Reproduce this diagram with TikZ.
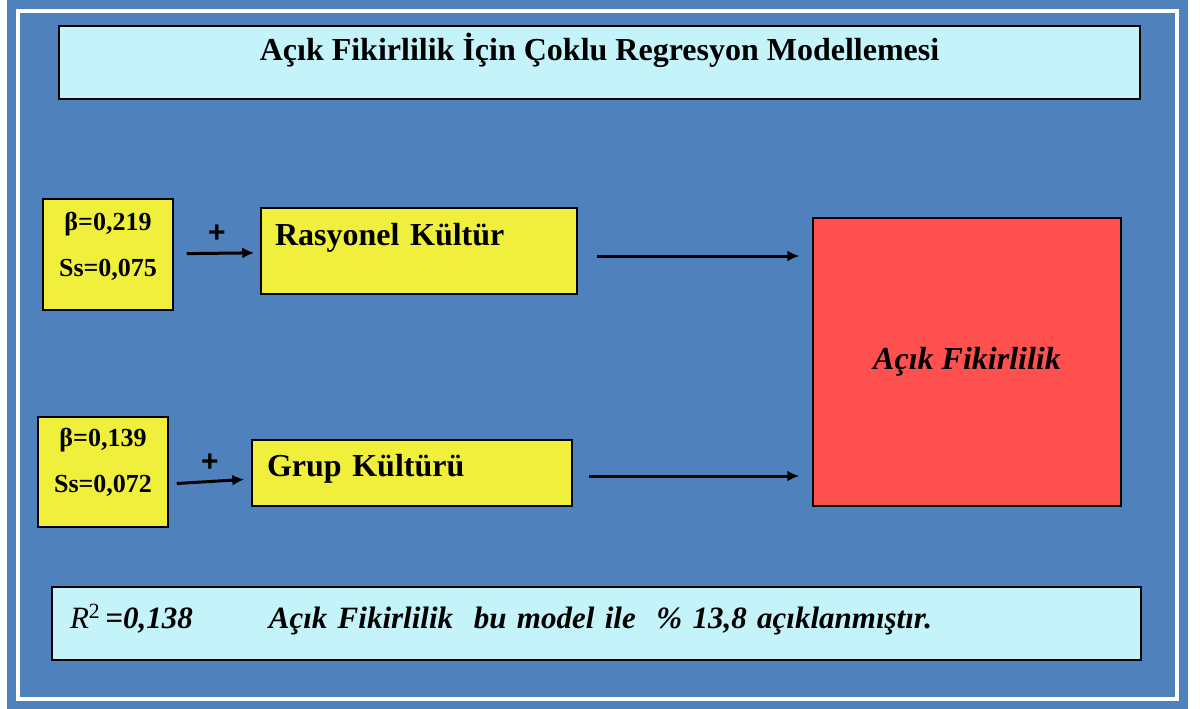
\documentclass[tikz,border=0pt]{standalone}
\usepackage{fontspec}
\setmainfont{Liberation Serif}
\setsansfont{Liberation Sans}
\usetikzlibrary{calc,arrows.meta}

\definecolor{slideblue}{HTML}{4F81BD}
\definecolor{palecyan}{HTML}{C5F3FA}
\definecolor{lemon}{HTML}{F0F03C}
\definecolor{coral}{HTML}{FF5050}

\begin{document}
\begin{tikzpicture}[x=1pt, y=-1pt,
		box node/.style={draw=black, line width=1.5pt, inner sep=0pt,
			font=\fontsize{32}{38}\selectfont\bfseries},
		beta node/.style={box node, fill=lemon, minimum width=130pt, align=center,
			font=\fontsize{26}{46}\selectfont\bfseries},
		link/.style={draw=black, line width=3pt, -{Latex[length=12pt,width=11pt]}},
		plus/.style={font=\sffamily\bfseries\fontsize{30}{30}\selectfont, inner sep=0pt, above=9pt}]
	
	\useasboundingbox (0,0) rectangle (1200,709);
	\fill[slideblue] (7,0) rectangle (1188,709);
	\draw[white, line width=4pt] (18,11.5) rectangle (1177,699);
	
	\node[box node, fill=palecyan, minimum width=1081pt, text height=34pt, text depth=39pt] (0) at (599.5,62.5)
		{Açık Fikirlilik İçin Çoklu Regresyon Modellemesi};
	
	\node[beta node, text height=77pt, text depth=34pt] (1) at (108,254.5)
		{β=0,219\\Ss=0,075};
	\node[box node, fill=lemon, text width=288pt, inner xsep=14pt, align=left,
		text height=37pt, text depth=49pt] (2) at (419,251) {Rasyonel Kültür};
	\node[box node, fill=lemon, text width=290pt, inner xsep=15pt, align=left,
		text height=36pt, text depth=30pt] (3) at (412,473) {Grup Kültürü};
	\node[box node, fill=coral, minimum width=308pt, minimum height=288pt,
		font=\fontsize{32}{38}\selectfont\bfseries\itshape] (4) at (967,362) {Açık Fikirlilik};
	\node[beta node, text height=75pt, text depth=35pt] (5) at (103,472)
		{β=0,139\\Ss=0,072};
	
	\node[box node, fill=palecyan, text width=1053pt, inner xsep=18pt, align=left,
		text height=41pt, text depth=32pt, font=\fontsize{31}{37}\selectfont] (6) at (596.5,623.5)
		{\textit{R}\textsuperscript{2}\,\textbf{\textit{=0,138}}\hspace{76pt}\textbf{\textit{Açık Fikirlilik\ \ bu model ile\ \ \% 13,8 açıklanmıştır.}}};
	
	% arrows into the boxes and into the outcome
	\draw[link, shorten <=13pt, shorten >=6pt] (1) -- node[plus] {+} (2);
	\draw[link, shorten <=8pt, shorten >=7pt] ([yshift=-12pt]5.east) -- node[plus] {+} ([yshift=-6pt]3.west);
	\draw[link, shorten <=19pt, shorten >=13pt] ($(2.east)+(0,5)$) -- ($(2.east -| 4.west)+(0,5)$);
	\draw[link, shorten <=16pt, shorten >=13pt] ($(3.east)+(0,3)$) -- ($(3.east -| 4.west)+(0,3)$);
\end{tikzpicture}
\end{document}
